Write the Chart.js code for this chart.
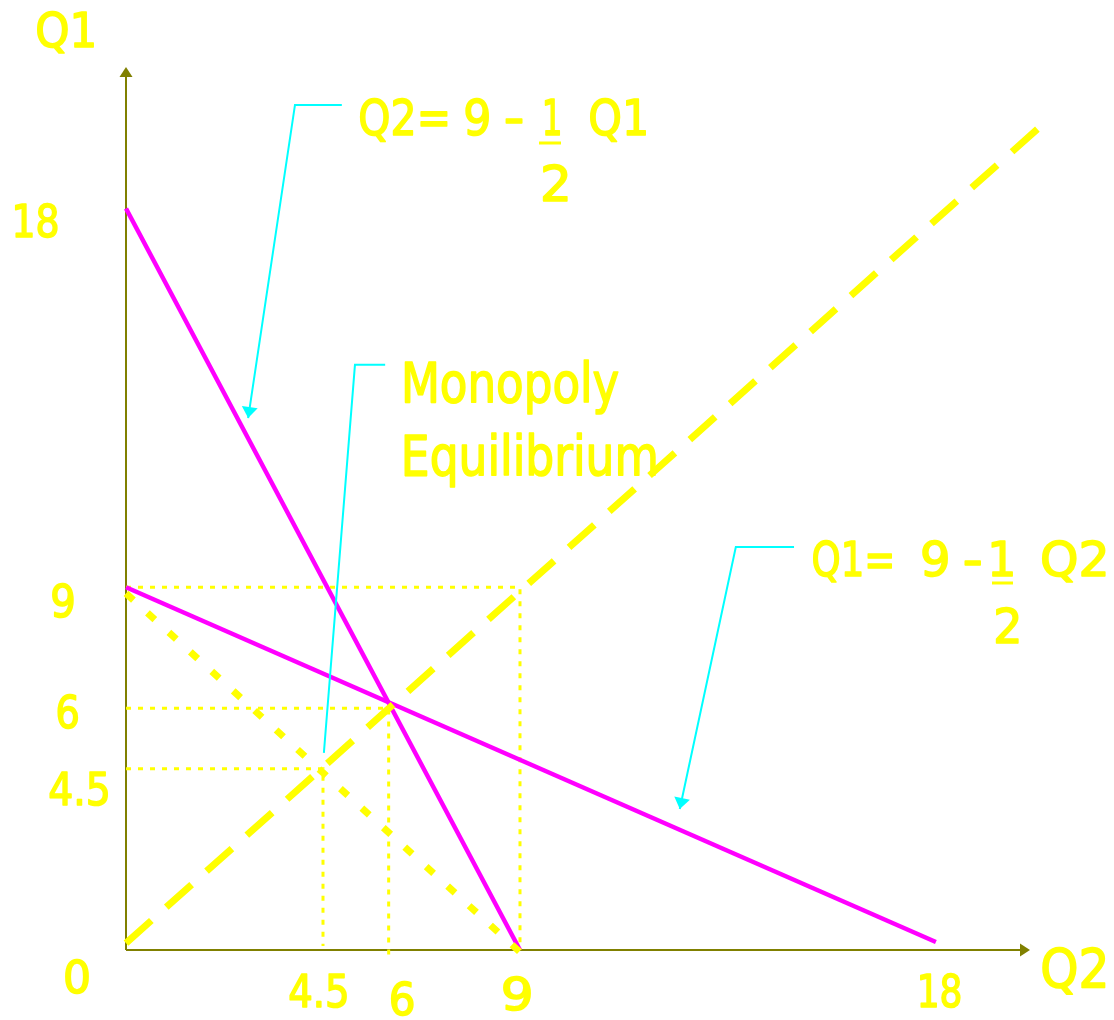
<!DOCTYPE html>
<html>
<head>
<meta charset="utf-8">
<script src="https://cdn.jsdelivr.net/npm/chart.js@4.4.0/dist/chart.umd.min.js"></script>
<style>
  html, body { margin: 0; padding: 0; background: #ffffff; }
  #wrap { width: 1114px; height: 1020px; }
</style>
</head>
<body>
<div id="wrap"><canvas id="chart" width="1114" height="1020"></canvas></div>
<script>
// Q2 on the horizontal axis, Q1 on the vertical one

// reaction curve of firm 2: Q2 = 9 - 1/2 Q1
const curve2Q2 = [0, 9];
const curve2Q1 = [18.4, 0];

// reaction curve of firm 1: Q1 = 9 - 1/2 Q2
const curve1Q2 = [0, 18.5];
const curve1Q1 = [9, 0.2];

// 45 degree line (Q1 = Q2)
const diagQ2 = [0, 20.85];
const diagQ1 = [0.17, 20.4];

// monopoly output line Q1 + Q2 = 9
const monoQ2 = [0, 9.15];
const monoQ1 = [8.85, -0.2];

// dotted guides at these levels, and where each vertical guide stops
const guideLevels = [9, 6, 4.5];
const guideEnds = [0, -0.2, 0.1];

// callout leaders
const call1Q2 = [4.93, 3.86, 2.79];
const call1Q1 = [20.97, 20.97, 13.2];
const call2Q2 = [5.92, 5.23, 4.52];
const call2Q1 = [14.52, 14.52, 4.89];
const call3Q2 = [15.26, 13.93, 12.65];
const call3Q1 = [10.0, 10.0, 3.5];

// tick labels
const xTickValues = [4.5, 6, 9, 18];
const xTickText = ["4.5", "6", "9", "18"];
const yTickValues = [18, 9, 6, 4.5, 0];
const yTickText = ["18", "9", "6", "4.5", "0"];

const YELLOW = "#ffff00";
const MAGENTA = "#ff00ff";
const CYAN = "#00ffff";
const OLIVE = "#808000";
const FONT = '"Comic Sans MS", "DejaVu Sans", sans-serif';

function pts(xs, ys) {
    return xs.map((x, i) => ({ x: x, y: ys[i] }));
}

function line(data, color, width, dash) {
    return {
        data: data,
        showLine: true,
        borderColor: color,
        backgroundColor: color,
        borderWidth: width,
        borderDash: dash || [],
        borderCapStyle: "butt",
        pointRadius: 0,
        pointHoverRadius: 0,
        tension: 0,
        clip: false
    };
}

// first dataset is drawn on top
const datasets = [
    line(pts(diagQ2, diagQ1), YELLOW, 7, [34, 20]),
    line(pts(monoQ2, monoQ1), YELLOW, 7, [10, 19]),
    line(pts(call1Q2, call1Q1), CYAN, 2),
    line(pts(call2Q2, call2Q1), CYAN, 2),
    line(pts(call3Q2, call3Q1), CYAN, 2),
    line(pts(curve2Q2, curve2Q1), MAGENTA, 4.5),
    line(pts(curve1Q2, curve1Q1), MAGENTA, 4.5)
];

guideLevels.forEach((v, i) => {
    datasets.push(line(pts([0, v, v], [v, v, guideEnds[i]]), YELLOW, 3, [5, 7]));
});

// pixel layout of text (left, baseline, ink width, font size)
const textLayout = [
    ["Q1", 37, 47, 57, 48],
    ["Q2", 1042, 987, 63, 53],
    ["Q2=", 360, 135, 87, 50],
    ["9", 466, 135, 23, 50],
    ["-", 506, 135, 16, 50],
    ["1", 545, 135, 15, 50],
    ["Q1", 590, 135, 56, 50],
    ["2", 543, 201, 24, 50],
    ["Monopoly", 405, 402, 213, 55],
    ["Equilibrium", 405, 475, 250, 55],
    ["Q1=", 813, 576, 79, 48],
    ["9", 923, 576, 25, 48],
    ["-", 965, 576, 15, 48],
    ["1", 992, 576, 21, 48],
    ["Q2", 1042, 576, 63, 48],
    ["2", 996, 643, 22, 48]
];
const underlines = [[539, 561, 143], [992, 1013, 583]];

// offsets of tick labels from their scale position: [dx to left edge, dy to baseline, width]
const xTickOffsets = [[-33, 1007, 57], [3, 1015, 22], [-17, 1010, 27], [6, 1007, 40]];
const yTickOffsets = [[15, 12, 42], [52, 30, 21], [58, 20, 20], [50, 36, 58], [65, 43, 24]];

function fitText(ctx, str, left, base, width, size) {
    ctx.font = size + "px " + FONT;
    const m = ctx.measureText(str);
    const ink = m.actualBoundingBoxLeft + m.actualBoundingBoxRight;
    const k = width / ink;
    ctx.save();
    ctx.translate(left, base);
    ctx.scale(k, 1);
    ctx.fillText(str, m.actualBoundingBoxLeft, 0);
    // thicker strokes, closer to the hand-drawn look
    ctx.lineWidth = 1.6;
    ctx.lineJoin = "round";
    ctx.strokeText(str, m.actualBoundingBoxLeft, 0);
    ctx.restore();
}

function arrowHead(ctx, fx, fy, tx, ty, len, half) {
    const a = Math.atan2(ty - fy, tx - fx);
    ctx.beginPath();
    ctx.moveTo(tx, ty);
    ctx.lineTo(tx - len * Math.cos(a) + half * Math.sin(a), ty - len * Math.sin(a) - half * Math.cos(a));
    ctx.lineTo(tx - len * Math.cos(a) - half * Math.sin(a), ty - len * Math.sin(a) + half * Math.cos(a));
    ctx.closePath();
    ctx.fill();
}

const axesPlugin = {
    id: "axes",
    beforeDatasetsDraw(chart) {
        const ctx = chart.ctx;
        const a = chart.chartArea;
        ctx.save();
        ctx.strokeStyle = OLIVE;
        ctx.fillStyle = OLIVE;
        ctx.lineWidth = 2;
        ctx.beginPath();
        ctx.moveTo(a.left, a.bottom);
        ctx.lineTo(a.left, a.top + 8);
        ctx.moveTo(a.left, a.bottom);
        ctx.lineTo(a.right - 8, a.bottom);
        ctx.stroke();
        arrowHead(ctx, a.left, a.bottom, a.left, a.top, 10, 6.5);
        arrowHead(ctx, a.left, a.bottom, a.right, a.bottom, 10, 6.5);
        ctx.restore();
    }
};

const textPlugin = {
    id: "texts",
    afterDatasetsDraw(chart) {
        const ctx = chart.ctx;
        const xs = chart.scales.x;
        const ys = chart.scales.y;
        ctx.save();

        // callout arrowheads
        ctx.fillStyle = CYAN;
        [[call1Q2, call1Q1], [call3Q2, call3Q1]].forEach(([qx, qy]) => {
            const n = qx.length;
            arrowHead(ctx,
                xs.getPixelForValue(qx[n - 2]), ys.getPixelForValue(qy[n - 2]),
                xs.getPixelForValue(qx[n - 1]), ys.getPixelForValue(qy[n - 1]), 11, 8);
        });

        ctx.fillStyle = YELLOW;
        ctx.strokeStyle = YELLOW;
        ctx.textBaseline = "alphabetic";
        ctx.textAlign = "left";

        xTickValues.forEach((v, i) => {
            const o = xTickOffsets[i];
            fitText(ctx, xTickText[i], xs.getPixelForValue(v) + o[0], o[1], o[2], 44);
        });
        yTickValues.forEach((v, i) => {
            const o = yTickOffsets[i];
            fitText(ctx, yTickText[i], o[0], ys.getPixelForValue(v) + o[1], o[2], 44);
        });

        textLayout.forEach(t => fitText(ctx, t[0], t[1], t[2], t[3], t[4]));

        ctx.lineWidth = 3;
        underlines.forEach(u => {
            ctx.beginPath();
            ctx.moveTo(u[0], u[2]);
            ctx.lineTo(u[1], u[2]);
            ctx.stroke();
        });
        ctx.restore();
    }
};

new Chart(document.getElementById("chart"), {
    type: "scatter",
    data: { datasets: datasets },
    options: {
        responsive: false,
        devicePixelRatio: 1,
        animation: false,
        events: [],
        layout: { padding: { left: 126, right: 84, top: 67, bottom: 70 } },
        scales: {
            x: { type: "linear", min: 0, max: 20.65, display: false },
            y: { type: "linear", min: 0, max: 21.91, display: false }
        },
        plugins: {
            legend: { display: false },
            tooltip: { enabled: false }
        }
    },
    plugins: [axesPlugin, textPlugin]
});
</script>
</body>
</html>
